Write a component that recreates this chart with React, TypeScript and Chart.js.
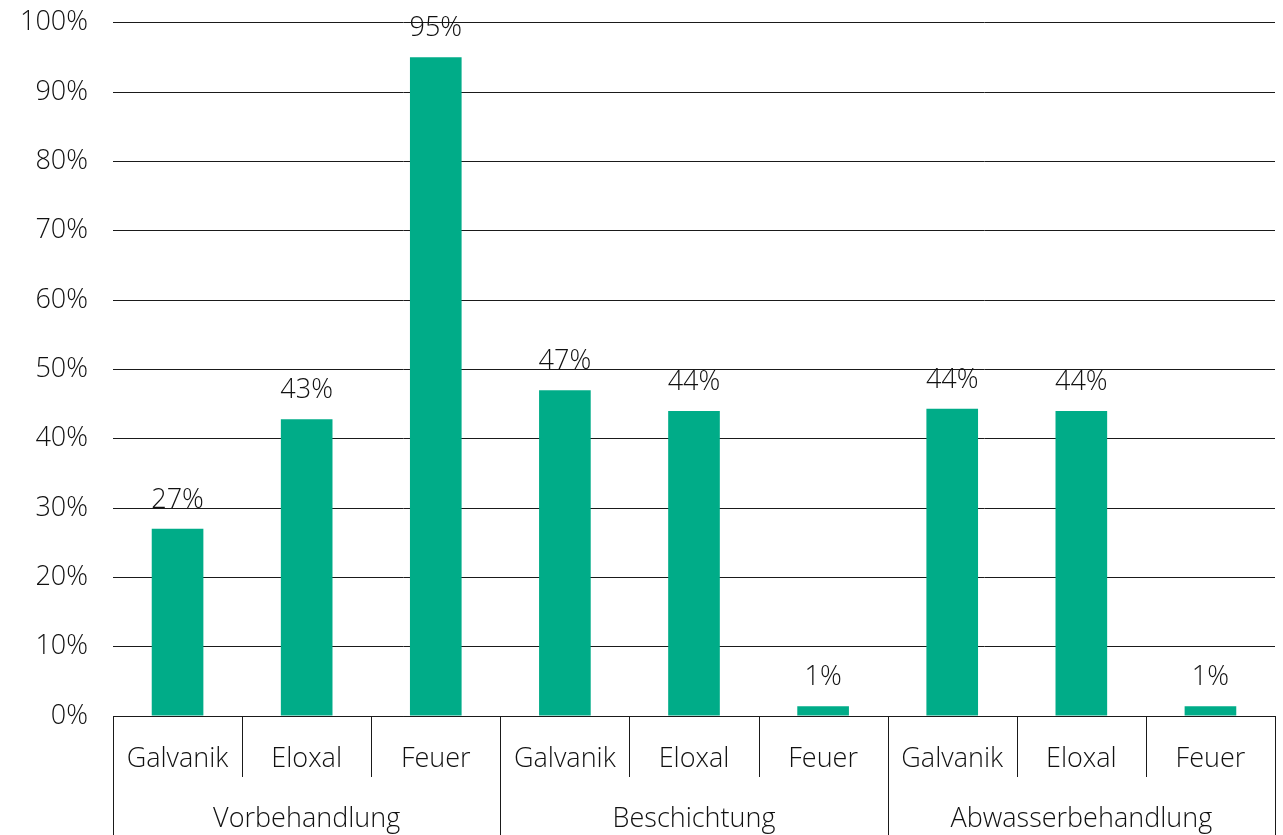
import React, { useEffect, useRef } from "react";
import { Chart, registerables } from "chart.js";

Chart.register(...registerables);

const groups: string[] = ["Vorbehandlung", "Beschichtung", "Abwasserbehandlung"];
const subcategories: string[] = ["Galvanik", "Eloxal", "Feuer"];
const categories: string[] = [
  "Galvanik", "Eloxal", "Feuer",
  "Galvanik", "Eloxal", "Feuer",
  "Galvanik", "Eloxal", "Feuer",
];
const values: number[] = [27, 42.8, 95, 47, 44, 1.4, 44.3, 44, 1.4];
const valueLabels: string[] = ["27%", "43%", "95%", "47%", "44%", "1%", "44%", "44%", "1%"];
const yMin = 0;
const yMax = 100;
const yStep = 10;

const FONT = "'Open Sans', 'Noto Sans', sans-serif";
const WEIGHT = 300;
const TEXT = "#111111";
const LINE = "#1a1a1a";
const BAR = "#00AC88";

const xAxisPlugin = {
  id: "xAxisGroups",
  afterDraw(chart: any) {
    const ctx = chart.ctx;
    const xs = chart.scales.x;
    const ys = chart.scales.y;
    const area = chart.chartArea;
    const n = categories.length;
    const step = xs.getPixelForValue(1) - xs.getPixelForValue(0);
    const half = step / 2;
    const bottom = area.bottom;
    ctx.save();
    ctx.font = `${WEIGHT} 27px ${FONT}`;
    ctx.fillStyle = TEXT;
    ctx.textAlign = "center";
    ctx.textBaseline = "alphabetic";
    // value labels
    for (let i = 0; i < n; i++) {
      const x = xs.getPixelForValue(i);
      const y = ys.getPixelForValue(values[i]);
      ctx.fillText(valueLabels[i], x, y - 21);
    }
    // sub category labels
    for (let i = 0; i < n; i++) {
      const x = xs.getPixelForValue(i);
      ctx.fillText(categories[i], x, bottom + 51);
    }
    // group labels
    const per = subcategories.length;
    for (let g = 0; g < groups.length; g++) {
      const x0 = xs.getPixelForValue(g * per) - half;
      const x1 = xs.getPixelForValue(g * per + per - 1) + half;
      ctx.fillText(groups[g], (x0 + x1) / 2, bottom + 111);
    }
    // dividers
    ctx.strokeStyle = LINE;
    ctx.lineWidth = 1;
    for (let i = 0; i <= n; i++) {
      const bx = Math.round(xs.getPixelForValue(0) - half + i * step) + 0.5;
      const isGroup = i % per === 0;
      ctx.beginPath();
      ctx.moveTo(bx, bottom);
      ctx.lineTo(bx, isGroup ? chart.height : bottom + 61);
      ctx.stroke();
    }
    ctx.restore();
  },
};

export default function App() {
  const ref = useRef<HTMLCanvasElement | null>(null);
  useEffect(() => {
    if (!ref.current) return;
    const chart = new Chart(ref.current, {
      type: "bar",
      data: {
        labels: categories,
        datasets: [
          {
            data: values,
            backgroundColor: BAR,
            borderWidth: 0,
            barPercentage: 0.4,
            categoryPercentage: 1.0,
          },
        ],
      },
      options: {
        responsive: false,
        animation: false,
        devicePixelRatio: 1,
        layout: { padding: { top: 22.7, right: 8, left: 0, bottom: 0 } },
        plugins: {
          legend: { display: false },
          tooltip: { enabled: false },
        },
        scales: {
          x: {
            grid: { display: false, drawTicks: false },
            border: { display: true, color: LINE, width: 1 },
            ticks: { display: false },
            afterFit: (s: any) => {
              s.height = 119;
            },
          },
          y: {
            min: yMin,
            max: yMax,
            grid: {
              color: LINE,
              lineWidth: 1,
              drawTicks: true,
              tickLength: 25,
              tickColor: "rgba(0,0,0,0)",
            },
            border: { display: false },
            ticks: {
              stepSize: yStep,
              padding: 0,
              color: TEXT,
              font: { family: FONT, size: 27, weight: WEIGHT as any },
              callback: (v: any) => `${v}%`,
            },
            afterFit: (s: any) => {
              s.width = 113;
            },
          },
        },
      },
      plugins: [xAxisPlugin],
    });
    return () => chart.destroy();
  }, []);
  return (
    <canvas
      ref={ref}
      width={1283}
      height={835}
      style={{ position: "absolute", left: 0, top: 0, width: 1283, height: 835, display: "block", background: "#fff" }}
    />
  );
}
